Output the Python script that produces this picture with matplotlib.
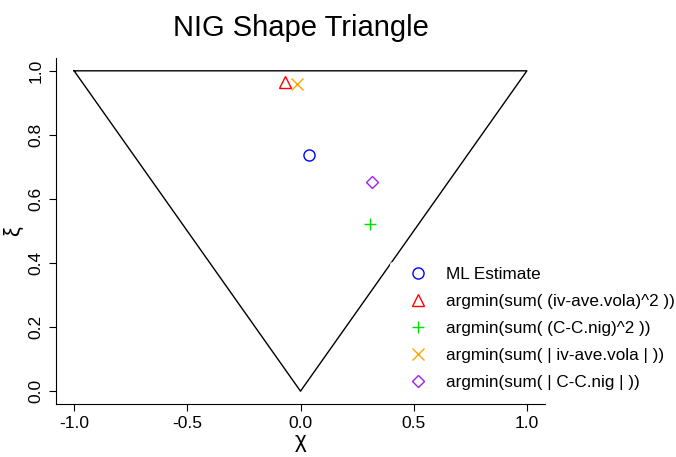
import matplotlib
matplotlib.use('Agg')
import matplotlib.pyplot as plt

# ---------------------------------------------------------
# Data: NIG shape triangle vertices and estimates (chi, xi)
# ---------------------------------------------------------
tri_x = [-1.0, 1.0, 0.0, -1.0]
tri_y = [1.0, 1.0, 0.0, 1.0]

labels = ['ML Estimate',
          'argmin(sum( (iv-ave.vola)^2 ))',
          'argmin(sum( (C-C.nig)^2 ))',
          'argmin(sum( | iv-ave.vola | ))',
          'argmin(sum( | C-C.nig | ))']
chi = [0.037, -0.069, 0.305, -0.015, 0.316]
xi = [0.737, 0.966, 0.522, 0.958, 0.652]
markers = ['o', '^', '+', 'x', 'D']
colors = ['#0000ff', '#ff0000', '#00dd00', '#ffa500', '#a020f0']
sizes = [8, 8, 9, 9, 6]

plt.rcParams['font.family'] = ['Liberation Sans', 'DejaVu Sans']

fig = plt.figure(figsize=(6.76, 4.57), dpi=100)
ax = fig.add_axes([56/676, 1 - 404/457, (545 - 56)/676, (404 - 58)/457])

ax.plot(tri_x, tri_y, color='black', lw=1.0, zorder=1)

for cx, cy, m, c, s, lab in zip(chi, xi, markers, colors, sizes, labels):
    ax.plot(cx, cy, linestyle='none', marker=m, markersize=s, color=c,
            markerfacecolor='none', markeredgewidth=1.0, label=lab, zorder=3)

ax.set_xlim(-1.08, 1.08)
ax.set_ylim(-0.04, 1.04)
ax.set_xticks([-1.0, -0.5, 0.0, 0.5, 1.0])
ax.set_yticks([0.0, 0.2, 0.4, 0.6, 0.8, 1.0])
ax.set_xticklabels(['-1.0', '-0.5', '0.0', '0.5', '1.0'])
ax.set_yticklabels(['0.0', '0.2', '0.4', '0.6', '0.8', '1.0'], rotation=90, va='center')
ax.tick_params(direction='out', length=5, width=0.8, labelsize=12.5, pad=4)

ax.spines['top'].set_visible(False)
ax.spines['right'].set_visible(False)

ax.set_xlabel('χ', fontsize=16, labelpad=0)
ax.set_ylabel('ξ', fontsize=16, labelpad=3)
ax.set_title('NIG Shape Triangle', fontsize=21, pad=16)

leg = ax.legend(loc='upper left', bbox_to_anchor=(390/676, 1 - 262/457),
                bbox_transform=fig.transFigure, frameon=True, fontsize=12.3,
                handletextpad=0.25, labelspacing=0.7, borderpad=0.3,
                borderaxespad=0, handlelength=2.7)
leg.get_frame().set_facecolor('white')
leg.get_frame().set_edgecolor('none')
leg.get_frame().set_alpha(1.0)
leg.set_zorder(5)

plt.savefig('out.png', dpi=100)
plt.close(fig)
